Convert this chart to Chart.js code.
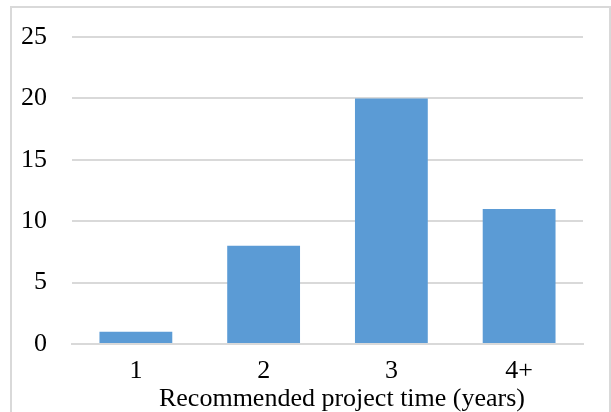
<!DOCTYPE html>
<html>
<head>
<meta charset="utf-8">
<script src="https://cdn.jsdelivr.net/npm/chart.js@4"></script>
<style>
  body { margin: 0; background: #fff; overflow: hidden; }
  #frame { position: absolute; left: 10px; top: 6px; width: 597px; height: 440px; border: 2px solid #d9d9d9; }
  #wrap { position: absolute; left: 0; top: 0; width: 611px; height: 412px; }
</style>
</head>
<body>
<div id="frame"></div>
<div id="wrap"><canvas id="myChart" width="611" height="412"></canvas></div>
<script>
// -----------------------------
// Data
// -----------------------------
const categories = ["1", "2", "3", "4+"];
const counts = [1, 8, 20, 11];
const yTicks = [0, 5, 10, 15, 20, 25];
const xTitle = "Recommended project time (years)";

const FONT = "'Liberation Serif', 'Times New Roman', serif";

// axis title sits a bit right of the plot centre in the original, so draw it by hand
const axisTitle = {
  id: "axisTitle",
  afterDraw(c) {
    const g = c.ctx;
    g.save();
    g.font = "26px " + FONT;
    g.fillStyle = "#000";
    g.textAlign = "center";
    g.textBaseline = "alphabetic";
    g.fillText(xTitle, 342, 406);
    g.restore();
  }
};

const ctx = document.getElementById("myChart").getContext("2d");
const chart = new Chart(ctx, {
  type: "bar",
  data: {
    labels: categories,
    datasets: [{
      data: counts,
      backgroundColor: "#5b9bd5",
      categoryPercentage: 0.57,
      barPercentage: 1
    }]
  },
  options: {
    responsive: false,
    animation: false,
    layout: { padding: { left: 0, right: 28, top: 37, bottom: 0 } },
    plugins: { legend: { display: false }, tooltip: { enabled: false } },
    scales: {
      x: {
        grid: { display: false },
        border: { display: true, color: "#d9d9d9", width: 2 },
        ticks: { color: "#000", font: { family: FONT, size: 26 }, padding: 4, maxRotation: 0 },
        afterFit: s => { s.height = 68; }
      },
      y: {
        min: yTicks[0],
        max: yTicks[yTicks.length - 1],
        afterBuildTicks: s => { s.ticks = yTicks.map(v => ({ value: v })); },
        grid: { color: "#d9d9d9", lineWidth: 2, drawTicks: false },
        border: { display: false },
        ticks: { color: "#000", font: { family: FONT, size: 26, lineHeight: 0.8 }, padding: 25 },
        afterFit: s => { s.width = 72; }
      }
    }
  },
  plugins: [axisTitle]
});
</script>
</body>
</html>
